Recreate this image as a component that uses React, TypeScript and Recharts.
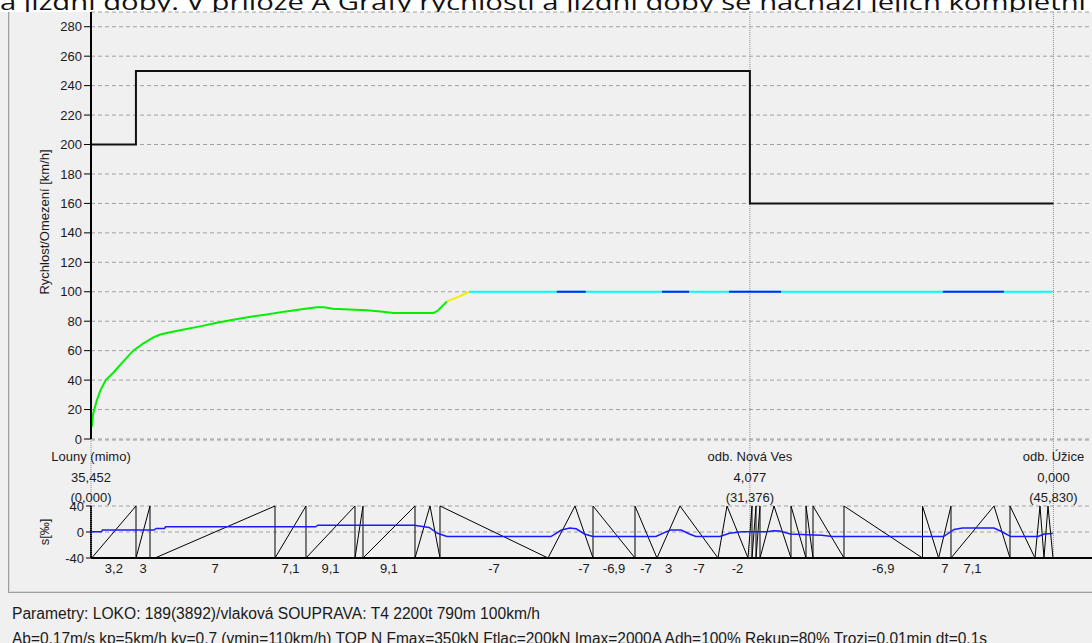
import React from "react";
import {
  ComposedChart,
  Line,
  XAxis,
  YAxis,
  CartesianGrid,
  ReferenceLine,
} from "recharts";

// --- data (distance in km, speed in km/h, gradient in ‰) ---

const limitKm = [0, 2.14, 31.376, 45.83];
const limitKmh = [200, 250, 160, 160];

const greenKm = [
  0.03, 0.1, 0.27, 0.45, 0.7, 1.06, 1.5, 2.01, 2.5, 2.97, 3.3, 3.6, 4.3, 5.19,
  6.0, 6.76, 7.6, 8.37, 9.2, 9.95, 10.75, 11.1, 11.52, 12.3, 13.13, 13.9, 14.4,
  15.5, 16.29, 16.5, 16.95,
];
const greenKmh = [
  8, 17, 26, 33, 40, 45, 52, 60, 65, 69, 71, 72, 74, 76.5, 79, 81, 83, 84.5,
  86.5, 88, 89.5, 89.5, 88.5, 88, 87.5, 86.5, 85.5, 85.5, 85.5, 87, 93.5,
];
const yellowKm = [16.95, 17.5, 18.0];
const yellowKmh = [93.5, 96.5, 100];
const cyanKm = [18.0, 45.77];
const cyanKmh = [100, 100];
const blueRunFrom = [22.18, 27.19, 30.38, 40.56];
const blueRunTo = [23.56, 28.48, 32.86, 43.47];
const blueKmh = 100;

const stationKm = [0, 31.376, 45.83];
const stationName = ["Louny (mimo)", "odb. Nová Ves", "odb. Úžice"];
const stationPos = ["35,452", "4,077", "0,000"];
const stationDist = ["(0,000)", "(31,376)", "(45,830)"];

const gradBreaks = [
  0.033, 2.143, 2.81, 3.048, 8.762, 10.238, 12.571, 12.952, 15.429, 16.143,
  16.619, 21.762, 23.048, 23.905, 25.905, 26.952, 28.048, 29.857, 30.286,
  31.286, 31.476, 31.667, 31.857, 32.524, 33.333, 34.048, 34.381, 35.857,
  39.595, 40.362, 40.952, 43.0, 43.762, 44.952, 45.19, 45.38, 45.571, 45.81,
];
const gradValues = [
  3.2, 3, 0, 7, 7.1, 9.1, 9, 9.1, 5, -3, -7, 2, -7, -6.9, -7, 3, -7, 2, -2, 1,
  1, 1, 2, -1, -1, -1.5, -5, -6.9, -3, 7, 7.1, -4, -5, 1, -1, 1, -1,
];
const gradLabels = [
  "3,2", "3", "", "7", "7,1", "9,1", "", "9,1", "", "", "-7", "", "-7", "-6,9",
  "-7", "3", "-7", "", "-2", "", "", "", "", "", "", "", "", "-6,9", "", "7",
  "7,1", "", "", "", "", "", "",
];

const effKm = [
  0.0, 0.5, 0.55, 3.0, 3.1, 3.5, 3.55, 10.7, 10.8, 15.4, 15.7, 16.1, 16.5,
  16.95, 21.9, 22.4, 22.8, 23.1, 23.5, 23.9, 26.9, 27.3, 27.6, 28.1, 28.5,
  28.8, 29.95, 30.4, 31.0, 32.2, 32.5, 32.8, 33.3, 34.4, 34.8, 35.3, 40.6,
  41.1, 41.5, 43.0, 43.4, 43.8, 45.1, 45.4, 45.8,
];
const effVal = [
  0.5, 0.5, 3, 3, 5.5, 5.5, 8, 8, 10.5, 10.5, 9, 7, -2, -7, -7, 3, 6, 5, -3,
  -7, -7, -1, 3, 3, -3, -7, -7, -2, 0.5, 0.5, 2, 1.5, -3, -4.5, -5, -7, -7, 4,
  6, 6, 0, -7, -7, -3, -2.5,
];

const speedTicks = [0, 20, 40, 60, 80, 100, 120, 140, 160, 180, 200, 220, 240, 260, 280];
const gradTicks = [-40, 0, 40];

const topLine =
  "a jízdní doby. V příloze A Grafy rychlostí a jízdní doby se nachází jejich kompletní";
const paramLine1 =
  "Parametry: LOKO: 189(3892)/vlaková SOUPRAVA: T4 2200t 790m 100km/h";
const paramLine2 =
  "Ab=0,17m/s kp=5km/h kv=0,7 (vmin=110km/h) TOP N Fmax=350kN Ftlac=200kN Imax=2000A Adh=100% Rekup=80% Trozi=0,01min dt=0,1s";

// --- derived tables ---

const pts = (xs: number[], ys: number[]) => xs.map((km, i) => ({ km, v: ys[i] }));

const limitData = pts(limitKm, limitKmh);
const greenData = pts(greenKm, greenKmh);
const yellowData = pts(yellowKm, yellowKmh);
const cyanData = pts(cyanKm, cyanKmh);
const blueRuns = blueRunFrom.map((from, i) => [
  { km: from, v: blueKmh },
  { km: blueRunTo[i], v: blueKmh },
]);
const effData = pts(effKm, effVal);

// each gradient section is drawn as a diagonal across the -40..40 band
const profileData = gradValues.flatMap((g, i) => {
  const a = g < 0 ? 40 : -40;
  const b = g > 0 ? 40 : -40;
  return [
    { km: gradBreaks[i], v: a },
    { km: gradBreaks[i + 1], v: b },
  ];
});

const labelCenters: number[] = [];
const labelByCenter = new Map<number, string>();
gradLabels.forEach((l, i) => {
  if (!l) return;
  const c = (gradBreaks[i] + gradBreaks[i + 1]) / 2;
  labelCenters.push(c);
  labelByCenter.set(c, l);
});

const minorSpeed = Array.from({ length: 146 }, (_, i) => i * 2);
const minorGrad = Array.from({ length: 21 }, (_, i) => -40 + i * 4);

const FONT = "'Liberation Sans', Arial, sans-serif";
const TXT = "#1a1a1a";
const GRID = "#a0a0a0";
const CHART_W = 1100;

function StationText(props: any) {
  const { viewBox, idx } = props;
  if (!viewBox) return null;
  const x = viewBox.x;
  const y = viewBox.y;
  return (
    <g fontFamily={FONT} fontSize={13} fill={TXT} textAnchor="middle">
      <text x={x} y={y + 21}>{stationName[idx]}</text>
      <text x={x} y={y + 42}>{stationPos[idx]}</text>
      <text x={x} y={y + 62}>{stationDist[idx]}</text>
    </g>
  );
}

const tickStyle = { fontSize: 13, fill: TXT, fontFamily: FONT };

export default function App() {
  return (
    <div
      style={{
        position: "fixed",
        left: 0,
        top: 0,
        width: 1092,
        height: 643,
        overflow: "hidden",
        background: "#f0f0f0",
        fontFamily: FONT,
      }}
    >
      <svg
        width={1092}
        height={12}
        style={{ position: "absolute", left: 0, top: 0, background: "#fff" }}
      >
        <text
          x={0}
          y={10}
          fontFamily="'Open Sans', sans-serif"
          fontSize={22}
          fill="#111"
          textLength={1086}
          lengthAdjust="spacingAndGlyphs"
        >
          {topLine}
        </text>
      </svg>

      <div
        style={{
          position: "absolute",
          left: 8,
          top: 12,
          width: 1100,
          height: 580,
          borderLeft: "1px solid #a0a0a0",
          borderBottom: "1px solid #a0a0a0",
          boxShadow: "inset 1px -1px 0 #d8d8d8",
        }}
      />

      <div style={{ position: "absolute", left: 0, top: 0 }}>
        <ComposedChart
          width={CHART_W}
          height={452}
          margin={{ top: 12, right: 1, bottom: 13, left: 31 }}
        >
          <CartesianGrid vertical={false} stroke={GRID} strokeDasharray="4 3" />
          <XAxis
            type="number"
            dataKey="km"
            domain={[0, 48]}
            allowDataOverflow
            height={0}
            tick={false}
            tickLine={false}
            axisLine={{ stroke: "#000", strokeWidth: 2 }}
          />
          <YAxis
            yAxisId="minor"
            type="number"
            domain={[0, 290]}
            allowDataOverflow
            ticks={minorSpeed}
            width={0}
            tick={false}
            axisLine={false}
            tickLine={{ stroke: "#000" }}
            tickSize={3}
          />
          <YAxis
            type="number"
            domain={[0, 290]}
            allowDataOverflow
            ticks={speedTicks}
            interval={0}
            width={60}
            tick={tickStyle}
            tickSize={7}
            tickMargin={2}
            tickLine={{ stroke: "#000" }}
            axisLine={{ stroke: "#000", strokeWidth: 2 }}
          />
          {stationKm.slice(1).map((km) => (
            <ReferenceLine
              key={km}
              x={km}
              stroke="#909090"
              strokeDasharray="1 1"
            />
          ))}
          <Line
            data={limitData}
            dataKey="v"
            type="stepAfter"
            stroke="#111"
            strokeWidth={2}
            dot={false}
            isAnimationActive={false}
          />
          <Line
            data={greenData}
            dataKey="v"
            type="linear"
            stroke="#00f000"
            strokeWidth={2}
            dot={false}
            isAnimationActive={false}
          />
          <Line
            data={yellowData}
            dataKey="v"
            type="linear"
            stroke="#f0f000"
            strokeWidth={2}
            dot={false}
            isAnimationActive={false}
          />
          <Line
            data={cyanData}
            dataKey="v"
            type="linear"
            stroke="#00ffff"
            strokeWidth={2}
            dot={false}
            isAnimationActive={false}
          />
          {blueRuns.map((run, i) => (
            <Line
              key={i}
              data={run}
              dataKey="v"
              type="linear"
              stroke="#2020ff"
              strokeWidth={2}
              dot={false}
              isAnimationActive={false}
            />
          ))}
        </ComposedChart>
      </div>

      <div style={{ position: "absolute", left: 0, top: 439 }}>
        <ComposedChart
          width={CHART_W}
          height={149}
          margin={{ top: 1, right: 1, bottom: 0, left: 31 }}
        >
          <CartesianGrid vertical={false} stroke={GRID} strokeDasharray="4 3" />
          <XAxis
            type="number"
            dataKey="km"
            domain={[0, 48]}
            allowDataOverflow
            height={30}
            ticks={labelCenters}
            interval={0}
            tickFormatter={(v: number) => labelByCenter.get(v) ?? ""}
            tick={tickStyle}
            tickLine={false}
            tickSize={0}
            tickMargin={6}
            axisLine={{ stroke: "#000", strokeWidth: 2 }}
          />
          <YAxis
            yAxisId="minor"
            type="number"
            domain={[-40, 141.5]}
            allowDataOverflow
            ticks={minorGrad}
            width={0}
            tick={false}
            axisLine={false}
            tickLine={{ stroke: "#000" }}
            tickSize={3}
          />
          <YAxis
            type="number"
            domain={[-40, 141.5]}
            allowDataOverflow
            ticks={gradTicks}
            interval={0}
            width={60}
            tick={tickStyle}
            tickSize={5}
            tickMargin={2}
            tickLine={{ stroke: "#000" }}
            axisLine={false}
          />
          <ReferenceLine
            segment={[
              { x: 0, y: -40 },
              { x: 0, y: 40 },
            ]}
            stroke="#000"
            strokeWidth={2}
          />
          {stationKm.map((km, i) => (
            <ReferenceLine
              key={km}
              x={km}
              stroke="#909090"
              strokeDasharray="1 1"
              label={<StationText idx={i} />}
            />
          ))}
          <Line
            data={profileData}
            dataKey="v"
            type="linear"
            stroke="#000"
            strokeWidth={1}
            dot={false}
            isAnimationActive={false}
          />
          <Line
            data={effData}
            dataKey="v"
            type="linear"
            stroke="#1a1aff"
            strokeWidth={1.5}
            dot={false}
            isAnimationActive={false}
          />
        </ComposedChart>
      </div>

      <span
        style={{
          position: "absolute",
          left: 44,
          top: 222,
          transform: "translate(-50%, -50%) rotate(-90deg)",
          whiteSpace: "nowrap",
          fontSize: 13,
          color: TXT,
        }}
      >
        Rychlost/Omezení [km/h]
      </span>
      <span
        style={{
          position: "absolute",
          left: 44,
          top: 532,
          transform: "translate(-50%, -50%) rotate(-90deg)",
          whiteSpace: "nowrap",
          fontSize: 13,
          color: TXT,
        }}
      >
        s[‰]
      </span>

      <svg
        width={1092}
        height={50}
        style={{ position: "absolute", left: 0, top: 593 }}
      >
        <text
          x={12}
          y={26}
          fontFamily={FONT}
          fontSize={16}
          fill={TXT}
          textLength={528}
          lengthAdjust="spacingAndGlyphs"
        >
          {paramLine1}
        </text>
        <text
          x={12}
          y={51}
          fontFamily={FONT}
          fontSize={16}
          fill={TXT}
          textLength={975}
          lengthAdjust="spacingAndGlyphs"
        >
          {paramLine2}
        </text>
      </svg>
    </div>
  );
}
